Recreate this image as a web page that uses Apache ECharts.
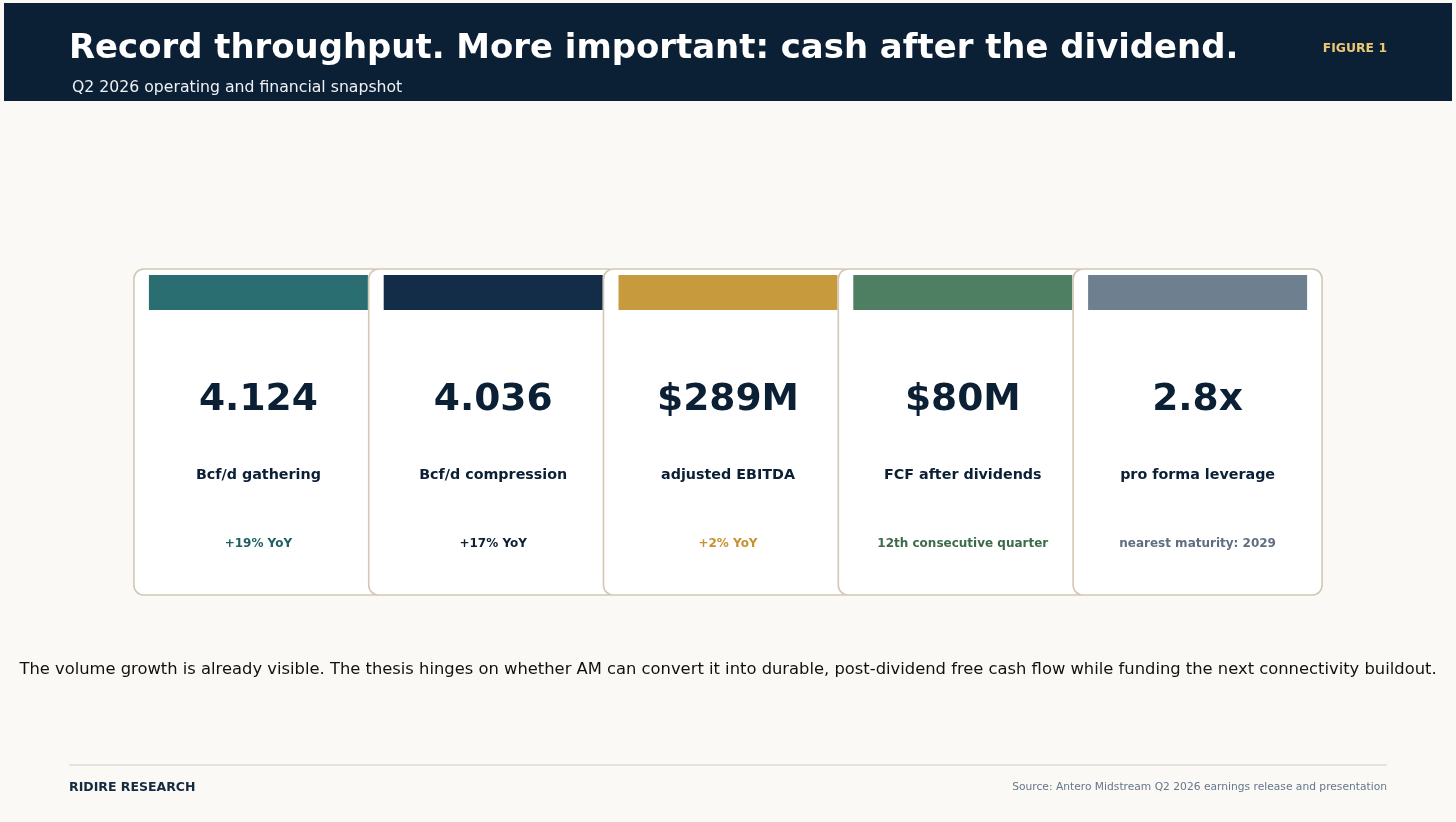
<!DOCTYPE html>
<html>
<head>
<meta charset="utf-8">
<title>Record throughput</title>
<script src="https://cdn.jsdelivr.net/npm/echarts@6/dist/echarts.min.js"></script>
<style>
    html, body { margin: 0; padding: 0; background: #faf9f5; }
    #chart { width: 1456px; height: 822px; }
</style>
</head>
<body>
<div id="chart"></div>
<script>

/* ===========================
   Data
=========================== */

const cardKeys = ["gathering", "compression", "ebitda", "fcf", "leverage"];
const cardValues = ["4.124", "4.036", "$289M", "$80M", "2.8x"];
const cardLabels = ["Bcf/d gathering", "Bcf/d compression", "adjusted EBITDA", "FCF after dividends", "pro forma leverage"];
const cardNotes = ["+19% YoY", "+17% YoY", "+2% YoY", "12th consecutive quarter", "nearest maturity: 2029"];

const barColors = ["#2a6e72", "#132c48", "#c89a3e", "#4f7f62", "#6e7f8f"];
const noteColors = ["#1f5f63", "#0d1f33", "#c8902e", "#3c6b4a", "#5f6f80"];

const FONT = "'DejaVu Sans', 'Noto Sans', sans-serif";
const NAVY = "#0b1f35";

/* ===========================
   Card renderer
=========================== */

function renderCard(params, api) {

    const i = api.value(0);
    const center = api.coord([i, 0]);
    const top = api.coord([i, 1])[1];
    const bottom = center[1];
    const cx = center[0];
    const cardW = 249;

    return {
        type: "group",
        children: [
            {
                type: "rect",
                shape: { x: cx - cardW / 2, y: top, width: cardW, height: bottom - top, r: 10 },
                style: { fill: "#ffffff", stroke: "#d2c8b4", lineWidth: 1.6 }
            },
            {
                type: "rect",
                shape: { x: cx - 109.5, y: top + 6, width: 219, height: 35 },
                style: { fill: barColors[i] }
            },
            {
                type: "text",
                style: {
                    text: cardValues[i], x: cx, y: 400,
                    textAlign: "center", textVerticalAlign: "middle",
                    font: "bold 37.6px " + FONT, fill: NAVY
                }
            },
            {
                type: "text",
                style: {
                    text: cardLabels[i], x: cx, y: 475,
                    textAlign: "center", textVerticalAlign: "middle",
                    font: "bold 14.3px " + FONT, fill: NAVY
                }
            },
            {
                type: "text",
                style: {
                    text: cardNotes[i], x: cx, y: 543.5,
                    textAlign: "center", textVerticalAlign: "middle",
                    font: "bold 12px " + FONT, fill: noteColors[i]
                }
            }
        ]
    };

}

/* ===========================
   Chart
=========================== */

const chart = echarts.init(document.getElementById("chart"));

chart.setOption({

    animation: false,
    backgroundColor: "#faf9f5",

    grid: { left: 141, right: 141, top: 269, bottom: 227 },

    xAxis: { type: "category", data: cardKeys, show: false },
    yAxis: { type: "value", min: 0, max: 1, show: false },

    graphic: [
        {
            type: "rect", silent: true,
            shape: { x: 4, y: 3, width: 1448, height: 98 },
            style: { fill: "#0b1f35" }
        },
        {
            type: "text", silent: true, left: 69, top: 32,
            style: {
                text: "Record throughput. More important: cash after the dividend.",
                font: "bold 33.9px " + FONT, fill: "#ffffff"
            }
        },
        {
            type: "text", silent: true, left: 72, top: 80,
            style: {
                text: "Q2 2026 operating and financial snapshot",
                font: "15.7px " + FONT, fill: "#eef1f5"
            }
        },
        {
            type: "text", silent: true, right: 69, top: 43,
            style: {
                text: "FIGURE 1",
                font: "bold 12.4px " + FONT, fill: "#ecc872"
            }
        },
        {
            type: "text", silent: true, left: "center", top: 662,
            style: {
                text: "The volume growth is already visible. The thesis hinges on whether AM can convert it into durable, post-dividend free cash flow while funding the next connectivity buildout.",
                font: "16.35px " + FONT, fill: "#111111"
            }
        },
        {
            type: "line", silent: true,
            shape: { x1: 69, y1: 765, x2: 1387, y2: 765 },
            style: { stroke: "#d3cfc3", lineWidth: 1.2 }
        },
        {
            type: "text", silent: true, left: 69, top: 781,
            style: {
                text: "RIDIRE RESEARCH",
                font: "bold 12.5px " + FONT, fill: "#152a40"
            }
        },
        {
            type: "text", silent: true, right: 69, top: 782,
            style: {
                text: "Source: Antero Midstream Q2 2026 earnings release and presentation",
                font: "10.7px " + FONT, fill: "#66768a"
            }
        }
    ],

    series: [{
        type: "custom",
        silent: true,
        renderItem: renderCard,
        data: cardKeys.map((k, i) => [i]),
        encode: { x: 0 }
    }]

});

</script>
</body>
</html>
